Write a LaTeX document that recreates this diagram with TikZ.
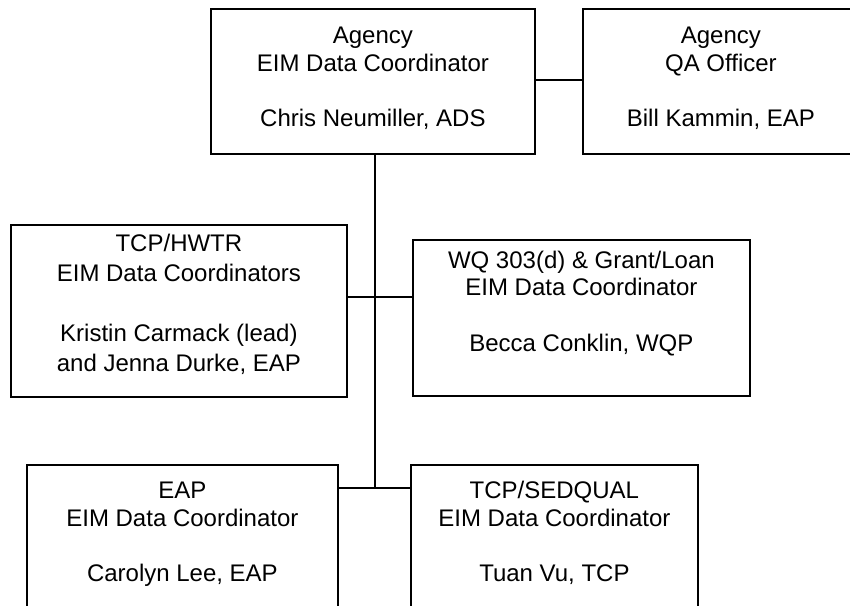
\documentclass[tikz,border=0pt]{standalone}
\usepackage{fontspec}
\setmainfont{Liberation Sans}
\begin{document}
\begin{tikzpicture}[x=1pt,y=-1pt,
  orgbox/.style={draw, line width=1.8pt, rectangle, inner sep=0pt, anchor=north west},
  orgtext/.style={align=center, inner sep=0pt, anchor=north, font=\fontsize{24}{27.7}\selectfont},
  orgtextwide/.style={align=center, inner sep=0pt, anchor=north, font=\fontsize{24}{30}\selectfont},
  link/.style={line width=1.8pt}]
\clip (0,0) rectangle (850,605);
% boxes
\node[orgbox, minimum width=324pt, minimum height=145pt] (agency) at (210,8) {};
\node[orgbox, minimum width=276pt, minimum height=145pt] (qa) at (582,8) {};
\node[orgbox, minimum width=336pt, minimum height=172pt] (hwtr) at (10,224) {};
\node[orgbox, minimum width=337pt, minimum height=156pt] (wq) at (412,239) {};
\node[orgbox, minimum width=311pt, minimum height=160pt] (eap) at (26,464) {};
\node[orgbox, minimum width=287pt, minimum height=160pt] (sed) at (410,464) {};
% texts
\node[orgtext, yshift=-16.2pt] (agencyt) at (agency.north) {\strut Agency\\EIM Data Coordinator\\[27.7pt]Chris Neumiller, ADS\strut};
\node[orgtext, yshift=-16.2pt] (qat) at (qa.north) {\strut Agency\\QA Officer\\[27.7pt]Bill Kammin, EAP\strut};
\node[orgtextwide, yshift=-6.6pt] (hwtrt) at (hwtr.north) {\strut TCP/HWTR\\EIM Data Coordinators\\[30pt]Kristin Carmack (lead)\\and Jenna Durke, EAP\strut};
\node[orgtext, yshift=-9.6pt] (wqt) at (wq.north) {\strut WQ 303(d) \& Grant/Loan\\EIM Data Coordinator\\[27.7pt]Becca Conklin, WQP\strut};
\node[orgtext, yshift=-15.2pt] (eapt) at (eap.north) {\strut EAP\\EIM Data Coordinator\\[27.7pt]Carolyn Lee, EAP\strut};
\node[orgtext, yshift=-15.2pt] (sedt) at (sed.north) {\strut TCP/SEDQUAL\\EIM Data Coordinator\\[27.7pt]Tuan Vu, TCP\strut};
% junctions
\coordinate (jtop) at (375,153);
\coordinate (jmid) at (375,297);
\coordinate (jbot) at (375,488);
% connectors
\draw[link] (agency.east |- 0,80) -- (qa.west |- 0,80);
\draw[link] (jtop) -- (jbot);
\draw[link] (hwtr.east |- jmid) -- (wq.west |- jmid);
\draw[link] (eap.east |- jbot) -- (sed.west |- jbot);
\end{tikzpicture}
\end{document}
